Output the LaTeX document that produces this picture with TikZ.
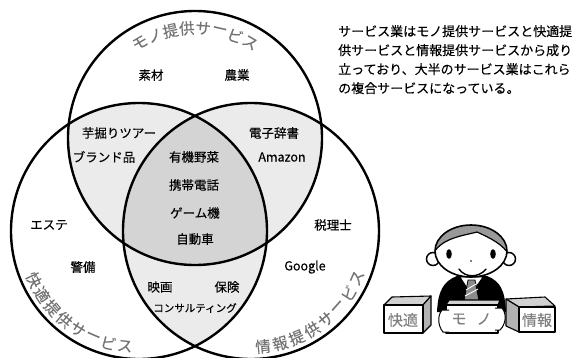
\documentclass[tikz,border=0pt]{standalone}
\usepackage{fontspec}
\setmainfont{Noto Sans CJK JP}[FakeBold=0.2]

\begin{document}
\begin{tikzpicture}[x=1pt,y=1pt]
    \tikzstyle{ring} = [line width=2.4pt]
    \tikzstyle{pair} = [fill=black!8]
    \tikzstyle{core} = [fill=black!17]
    \tikzstyle{item} = [inner sep=1pt, font=\fontsize{12.5}{14}\selectfont]
    \tikzstyle{arclabel} = [inner sep=0pt, text=black!55, font=\fontsize{15.5}{16}\selectfont]
    \tikzstyle{box} = [line width=1.1pt, line join=round]
    \tikzstyle{boxtext} = [inner sep=0pt, text=black!50, font=\fontsize{15}{15}\selectfont]
    \useasboundingbox (0,0) rectangle (573,-357);
    \clip (0,0) rectangle (573,-357);
    \coordinate (T) at (195,-138);
    \coordinate (L) at (139,-231);
    \coordinate (R) at (251,-231);
    % overlaps
    \begin{scope}
      \clip (T) circle (127pt);
      \fill[pair] (L) circle (128pt);
      \fill[pair] (R) circle (128pt);
    \end{scope}
    \begin{scope}
      \clip (L) circle (128pt);
      \fill[pair] (R) circle (128pt);
    \end{scope}
    \begin{scope}
      \clip (T) circle (127pt);
      \clip (L) circle (128pt);
      \fill[core] (R) circle (128pt);
    \end{scope}
    \draw[ring] (T) circle (127pt);
    \draw[ring] (L) circle (128pt);
    \draw[ring] (R) circle (128pt);
    % circle titles
    \foreach \c [count=\i, evaluate=\i as \a using 120-(\i-1)*60/7] in {モ,ノ,提,供,サ,ー,ビ,ス}
      \node[arclabel, rotate=\a-90] (mono\i) at ([shift={(\a:110pt)}]T) {\c};
    \foreach \c [count=\i, evaluate=\i as \a using 205+(\i-1)*58/7] in {快,適,提,供,サ,ー,ビ,ス}
      \node[arclabel, rotate=\a+90] (kaiteki\i) at ([shift={(\a:116pt)}]L) {\c};
    \foreach \c [count=\i, evaluate=\i as \a using 276+(\i-1)*60/7] in {情,報,提,供,サ,ー,ビ,ス}
      \node[arclabel, rotate=\a+90] (jouhou\i) at ([shift={(\a:116pt)}]R) {\c};
    % examples
    \node[item] (sozai) at (151,-75) {素材};
    \node[item] (nougyou) at (237,-75) {農業};
    \node[item] (imohori) at (119,-133) {芋掘りツアー};
    \node[item] (brand) at (104,-157) {ブランド品};
    \node[item] (yasai) at (194,-157) {有機野菜};
    \node[item] (keitai) at (194,-185) {携帯電話};
    \node[item] (game) at (195,-213) {ゲーム機};
    \node[item] (jidousha) at (195,-239) {自動車};
    \node[item] (jisho) at (274,-133) {電子辞書};
    \node[item] (amazon) at (282,-157) {Amazon};
    \node[item] (esute) at (49,-225) {エステ};
    \node[item] (keibi) at (83,-267) {警備};
    \node[item] (zeirishi) at (333,-225) {税理士};
    \node[item] (google) at (305,-267) {Google};
    \node[item] (eiga) at (160,-287) {映画};
    \node[item] (hoken) at (227,-287) {保険};
    \node[item, font=\fontsize{10.5}{12}\selectfont] (consul) at (195,-308) {コンサルティング};
    % note
    \node[anchor=north west, align=left, inner sep=0pt, font=\fontsize{13}{19}\selectfont] (note) at (338,-25)
      {サービス業はモノ提供サービスと快適提\\供サービスと情報提供サービスから成り\\立っており、大半のサービス業はこれら\\の複合サービスになっている。};
    % side boxes
    \draw[box, fill=black!18] (384,-305) -- (392,-297) -- (431,-296) -- (423,-305) -- cycle;
    \draw[box, fill=black!30] (423,-305) -- (431,-296) -- (431,-325) -- (423,-333) -- cycle;
    \draw[box, fill=white] (384,-305) rectangle (423,-333);
    \node[boxtext] (kaitekibox) at (403,-320) {快適};
    \draw[box, fill=black!18] (506,-299) -- (545,-297) -- (555,-306) -- (519,-307) -- cycle;
    \draw[box, fill=black!30] (506,-299) -- (519,-307) -- (519,-332) -- (506,-326) -- cycle;
    \draw[box, fill=white] (519,-307) rectangle (555,-332);
    \node[boxtext] (jouhoubox) at (537,-320) {情報};
    % suit
    \fill[black] (457,-276) -- (487,-276) .. controls (500,-281) and (505,-290) .. (506,-312) -- (437,-312) .. controls (438,-290) and (444,-281) .. (457,-276) -- cycle;
    \draw[fill=white, line width=0.8pt] (460,-277) -- (471,-294) -- (483,-277) -- cycle;
    \draw[fill=black!45, line width=0.8pt] (468,-280) -- (475,-280) -- (479,-301) -- (464,-301) -- cycle;
    \draw[white, line width=0.9pt] (466,-290) -- (476,-284) (465,-296) -- (478,-289);
    % middle box
    \draw[box, fill=black!18] (446,-305) -- (449,-300) -- (500,-300) -- (498,-305) -- cycle;
    \draw[box, fill=white] (446,-305) rectangle (498,-333);
    \node[boxtext] (mo) at (459,-319) {モ};
    \node[boxtext] (no) at (484,-319) {ノ};
    % hands
    \draw[fill=white, line width=1pt] (449,-310) -- (442,-310) .. controls (437,-316) and (438,-326) .. (443,-332) -- (449,-332);
    \draw[fill=white, line width=1pt] (495,-308) -- (502,-308) .. controls (507,-314) and (506,-324) .. (500,-330) -- (495,-330);
    % head
    \draw[fill=white, line width=1.5pt] (433,-259) circle (6.5pt);
    \draw[fill=white, line width=1.5pt] (509,-259) circle (6.5pt);
    \fill[white] (471,-251) ellipse [x radius=36pt, y radius=26pt];
    \begin{scope}
      \clip (471,-251) ellipse [x radius=36pt, y radius=26pt];
      \fill[black!40] (432,-256) .. controls (440,-238) and (462,-236) .. (477,-232) .. controls (490,-238) and (503,-244) .. (510,-256) -- (510,-220) -- (432,-220) -- cycle;
      \draw[line width=1.2pt] (432,-256) .. controls (440,-238) and (462,-236) .. (477,-232) .. controls (490,-238) and (503,-244) .. (510,-256);
    \end{scope}
    \draw[line width=1.6pt] (471,-251) ellipse [x radius=36pt, y radius=26pt];
    \fill (449,-254) ellipse [x radius=2.8pt, y radius=4.8pt];
    \fill (493,-254) ellipse [x radius=2.8pt, y radius=4.8pt];
    \fill (471,-261) circle (0.9pt);
    \draw[line width=1.4pt, line cap=round] (459,-269) .. controls (465,-278) and (479,-278) .. (486,-269);
\end{tikzpicture}
\end{document}
